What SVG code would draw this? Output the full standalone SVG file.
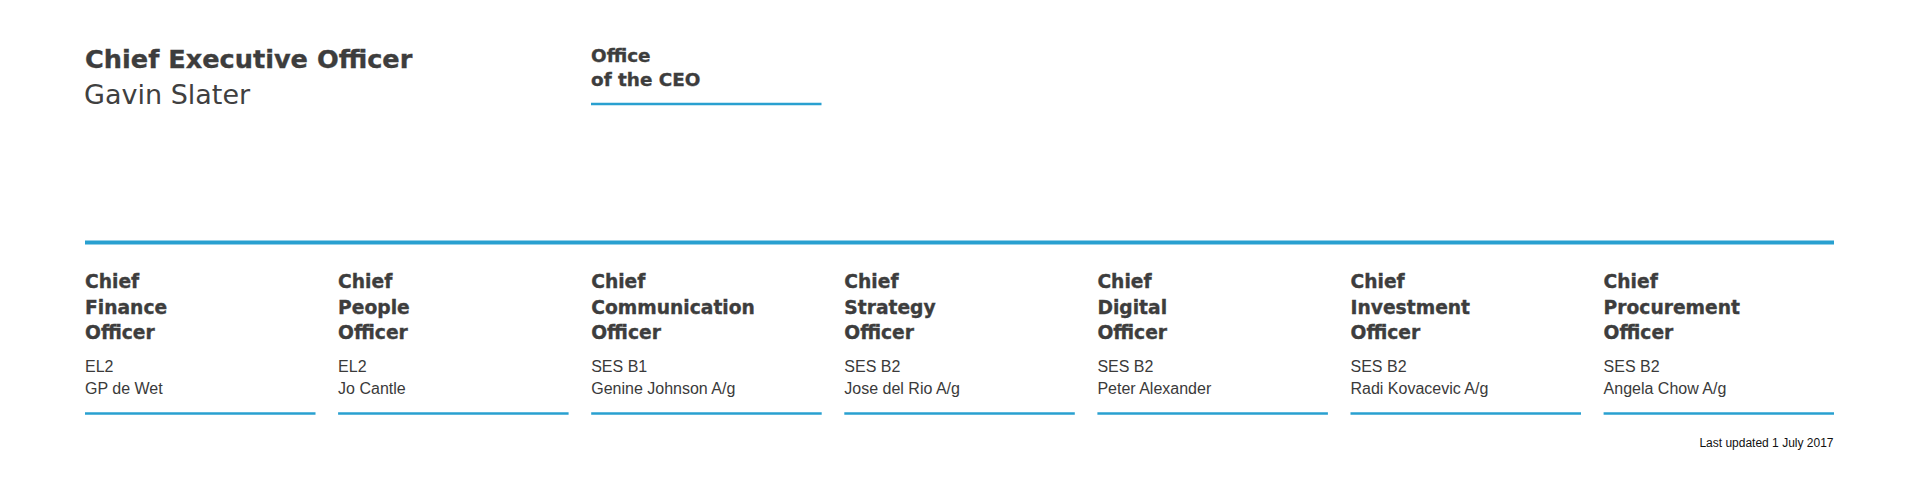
<svg xmlns="http://www.w3.org/2000/svg" width="1919" height="486" viewBox="0 0 1919 486">
<style>
.h{font-family:"DejaVu Sans","Liberation Sans",sans-serif;font-weight:bold;fill:#3d3d3d;stroke:#3d3d3d;stroke-width:0.35}
.r{font-family:"DejaVu Sans","Liberation Sans",sans-serif;fill:#404040}
.t{font-family:"Liberation Sans",Arial,sans-serif;font-size:16px;fill:#3a3a3a}
.ct{font-size:18.7px}
.ln{stroke:#29a0d0;fill:none}
.bl{stroke-width:2.5}
</style>
<rect width="1919" height="486" fill="#ffffff"/>
<g id="ceo">
<text class="h" x="85" y="67.5" font-size="25.6">Chief Executive Officer</text>
<text class="r" x="84" y="104" font-size="27">Gavin Slater</text>
</g>
<g id="office-ceo">
<text class="h" x="591" y="61.5" font-size="18.4">Office</text>
<text class="h" x="591" y="86" font-size="18.4">of the CEO</text>
<line class="ln bl" x1="591" y1="104" x2="821.5" y2="104"/>
</g>
<g id="connectors">
<line class="ln" x1="85" y1="242.5" x2="1834" y2="242.5" stroke-width="4"/>
</g>
<g id="cfo">
<text class="h ct" x="85" y="287.5">Chief</text>
<text class="h ct" x="85" y="313.5">Finance</text>
<text class="h ct" x="85" y="339">Officer</text>
<text class="t" x="85" y="371.5">EL2</text>
<text class="t" x="85" y="393.5">GP de Wet</text>
<line class="ln bl" x1="85" y1="413.5" x2="315.5" y2="413.5"/>
</g>
<g id="cpo">
<text class="h ct" x="338.1" y="287.5">Chief</text>
<text class="h ct" x="338.1" y="313.5">People</text>
<text class="h ct" x="338.1" y="339">Officer</text>
<text class="t" x="338.1" y="371.5">EL2</text>
<text class="t" x="338.1" y="393.5">Jo Cantle</text>
<line class="ln bl" x1="338.1" y1="413.5" x2="568.6" y2="413.5"/>
</g>
<g id="cco">
<text class="h ct" x="591.2" y="287.5">Chief</text>
<text class="h ct" x="591.2" y="313.5">Communication</text>
<text class="h ct" x="591.2" y="339">Officer</text>
<text class="t" x="591.2" y="371.5">SES B1</text>
<text class="t" x="591.2" y="393.5">Genine Johnson A/g</text>
<line class="ln bl" x1="591.2" y1="413.5" x2="821.7" y2="413.5"/>
</g>
<g id="cso">
<text class="h ct" x="844.3" y="287.5">Chief</text>
<text class="h ct" x="844.3" y="313.5">Strategy</text>
<text class="h ct" x="844.3" y="339">Officer</text>
<text class="t" x="844.3" y="371.5">SES B2</text>
<text class="t" x="844.3" y="393.5">Jose del Rio A/g</text>
<line class="ln bl" x1="844.3" y1="413.5" x2="1074.8" y2="413.5"/>
</g>
<g id="cdo">
<text class="h ct" x="1097.4" y="287.5">Chief</text>
<text class="h ct" x="1097.4" y="313.5">Digital</text>
<text class="h ct" x="1097.4" y="339">Officer</text>
<text class="t" x="1097.4" y="371.5">SES B2</text>
<text class="t" x="1097.4" y="393.5">Peter Alexander</text>
<line class="ln bl" x1="1097.4" y1="413.5" x2="1327.9" y2="413.5"/>
</g>
<g id="cio">
<text class="h ct" x="1350.5" y="287.5">Chief</text>
<text class="h ct" x="1350.5" y="313.5">Investment</text>
<text class="h ct" x="1350.5" y="339">Officer</text>
<text class="t" x="1350.5" y="371.5">SES B2</text>
<text class="t" x="1350.5" y="393.5">Radi Kovacevic A/g</text>
<line class="ln bl" x1="1350.5" y1="413.5" x2="1581" y2="413.5"/>
</g>
<g id="cpro">
<text class="h ct" x="1603.6" y="287.5">Chief</text>
<text class="h ct" x="1603.6" y="313.5">Procurement</text>
<text class="h ct" x="1603.6" y="339">Officer</text>
<text class="t" x="1603.6" y="371.5">SES B2</text>
<text class="t" x="1603.6" y="393.5">Angela Chow A/g</text>
<line class="ln bl" x1="1603.6" y1="413.5" x2="1834" y2="413.5"/>
</g>
<g id="footer">
<text x="1833.5" y="446.7" text-anchor="end" font-family="'Liberation Sans',Arial,sans-serif" font-size="12" fill="#111111">Last updated 1 July 2017</text>
</g>
</svg>
